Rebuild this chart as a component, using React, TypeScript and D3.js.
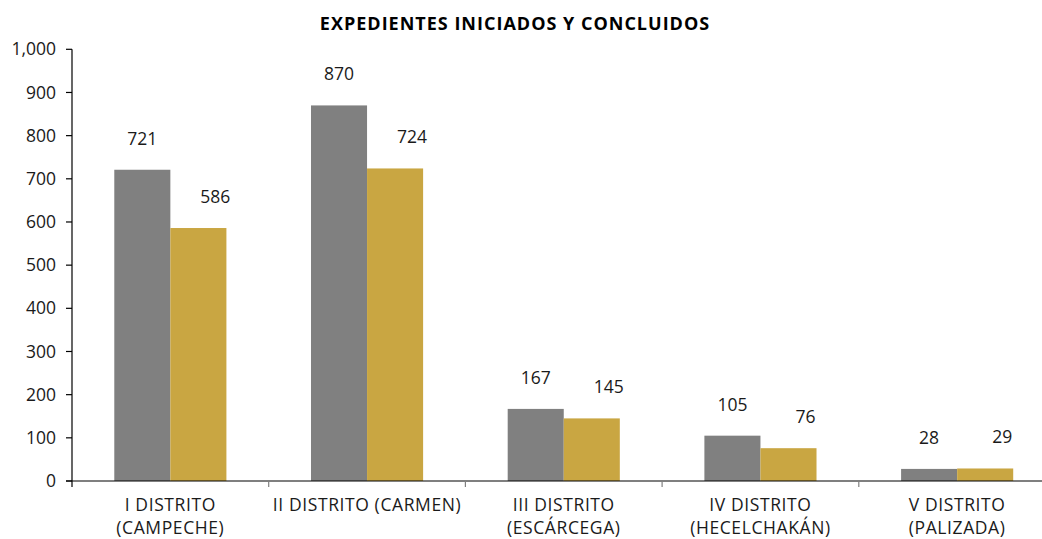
import React from "react";
import * as d3 from "d3";

const categories: string[][] = [
  ["I DISTRITO", "(CAMPECHE)"],
  ["II DISTRITO (CARMEN)"],
  ["III DISTRITO", "(ESCÁRCEGA)"],
  ["IV DISTRITO", "(HECELCHAKÁN)"],
  ["V DISTRITO", "(PALIZADA)"],
];
const iniciados = [721, 870, 167, 105, 28];
const concluidos = [586, 724, 145, 76, 29];
const yTicks = [0, 100, 200, 300, 400, 500, 600, 700, 800, 900, 1000];
const title = "EXPEDIENTES INICIADOS Y CONCLUIDOS";

const W = 1042;
const H = 539;
const FONT = "'Open Sans', 'DejaVu Sans', sans-serif";
const GRAY = "#808080";
const GOLD = "#C9A642";

export default function App() {
  const x0 = 72;
  const step = 196.7;
  const x = d3
    .scaleBand<number>()
    .domain(categories.map((_, i) => i))
    .range([x0, x0 + step * categories.length])
    .paddingInner(0.43)
    .paddingOuter(0.215);
  const y = d3.scaleLinear().domain([0, 1000]).range([481, 49.3]);
  const bw = x.bandwidth() / 2;
  const fmt = d3.format(",");
  const series = [
    { values: iniciados, color: GRAY, off: 0, lab: 0 },
    { values: concluidos, color: GOLD, off: 1, lab: 17 },
  ];
  const boundaries = d3.range(categories.length + 1).map((i) => x0 + i * step);
  return (
    <svg
      width={W}
      height={H}
      style={{ position: "absolute", left: 0, top: 0, background: "#fff" }}
      fontFamily={FONT}
    >
      <text x={515} y={30} textAnchor="middle" fontWeight="bold" fontSize={18} letterSpacing={1} fill="#000">
        {title}
      </text>
      {series.map((s, si) =>
        s.values.map((v, i) => {
          const bx = (x(i) as number) + s.off * bw;
          return (
            <g key={`${si}-${i}`}>
              <rect x={bx} y={y(v)} width={bw} height={y(0) - y(v)} fill={s.color} />
              <text
                x={bx + bw / 2 + s.lab}
                y={y(v) - 25}
                textAnchor="middle"
                fontSize={17.5}
                fill="#1a1a1a"
              >
                {fmt(v)}
              </text>
            </g>
          );
        })
      )}
      {/* y axis */}
      <line x1={72} x2={72} y1={y(1000)} y2={y(0)} stroke="#000" strokeWidth={1.2} />
      {yTicks.map((t) => (
        <g key={t}>
          <line x1={66} x2={72} y1={y(t)} y2={y(t)} stroke="#000" strokeWidth={1.2} />
          <text x={56} y={y(t)} dy="0.35em" textAnchor="end" fontSize={17.5} fill="#1a1a1a">
            {fmt(t)}
          </text>
        </g>
      ))}
      {/* x axis */}
      <line x1={66} x2={W} y1={y(0)} y2={y(0)} stroke="#000" strokeWidth={1.2} />
      {boundaries.map((b, i) => (
        <line key={i} x1={b} x2={b} y1={y(0)} y2={y(0) + 6} stroke={i === 0 ? "#000" : "#808080"} strokeWidth={1.2} />
      ))}
      {categories.map((lines, i) => (
        <text
          key={i}
          x={(x(i) as number) + x.bandwidth() / 2}
          textAnchor="middle"
          fontSize={17.5}
          letterSpacing={0.6}
          fill="#1a1a1a"
        >
          {lines.map((l, j) => (
            <tspan key={j} x={(x(i) as number) + x.bandwidth() / 2} y={511 + j * 23}>
              {l}
            </tspan>
          ))}
        </text>
      ))}
    </svg>
  );
}
